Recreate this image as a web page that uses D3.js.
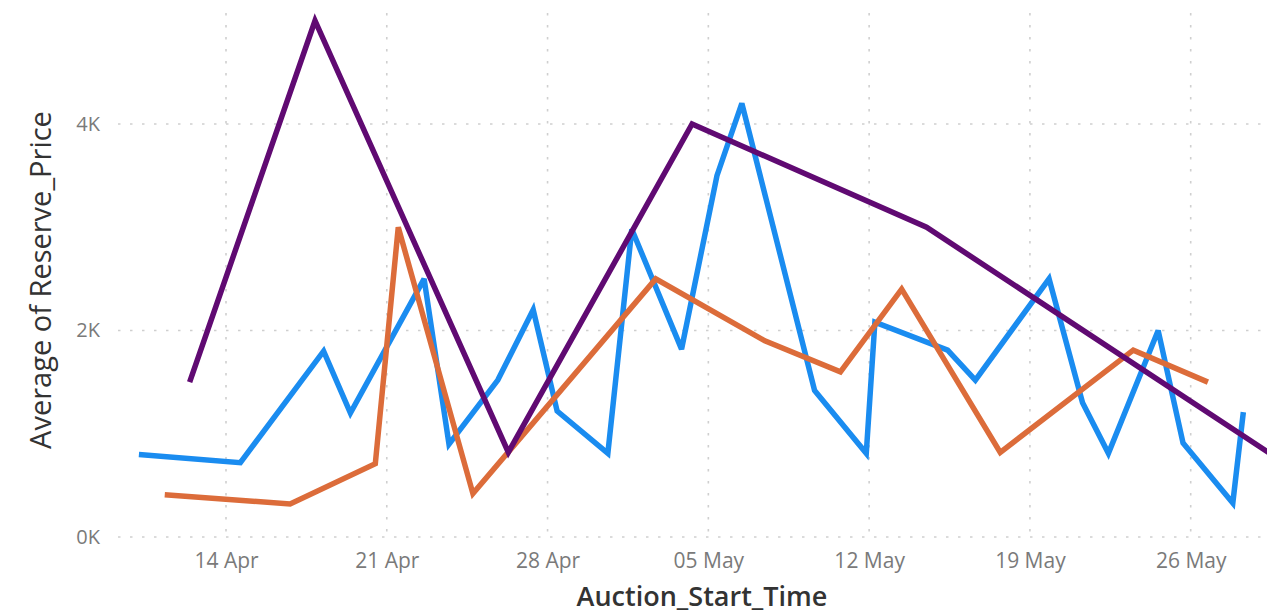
<!DOCTYPE html>
<html>
<head>
<meta charset="utf-8">
<script src="https://cdn.jsdelivr.net/npm/d3@7"></script>
<style>
  html, body { margin: 0; padding: 0; background: #ffffff; }
  svg { display: block; }
  text { font-family: "Open Sans", "Noto Sans", sans-serif; }
</style>
</head>
<body>
<svg id="chart" width="1267" height="616"></svg>
<script>
// ---- data ----
const blueDates = ["2023-04-10T05:00","2023-04-14T15:00","2023-04-18T06:00","2023-04-19T10:00","2023-04-22T15:00","2023-04-23T17:00","2023-04-25T20:00","2023-04-27T09:00","2023-04-28T10:00","2023-04-30T15:00","2023-05-01T16:00","2023-05-03T20:00","2023-05-05T09:00","2023-05-06T11:00","2023-05-09T15:00","2023-05-11T21:00","2023-05-12T06:00","2023-05-15T10:00","2023-05-16T15:00","2023-05-19T20:00","2023-05-21T07:00","2023-05-22T10:00","2023-05-24T14:00","2023-05-25T16:00","2023-05-27T20:00","2023-05-28T07:00"];
const blueValues = [800,720,1800,1200,2500,900,1520,2200,1220,810,2980,1820,3500,4200,1420,810,2080,1810,1520,2500,1300,810,2000,910,330,1210];

const orangeDates = ["2023-04-11T08:00","2023-04-16T19:00","2023-04-20T12:00","2023-04-21T12:00","2023-04-24T18:00","2023-05-02T17:00","2023-05-07T11:00","2023-05-10T18:00","2023-05-13T10:00","2023-05-17T17:00","2023-05-23T12:00","2023-05-26T18:00"];
const orangeValues = [410,320,710,3000,420,2500,1900,1600,2400,820,1810,1500];

const purpleDates = ["2023-04-12T10:00","2023-04-17T21:00","2023-04-26T07:00","2023-05-04T07:00","2023-05-14T12:00","2023-05-30T08:00"];
const purpleValues = [1500,5000,820,4000,3000,680];

const xTickDates = ["2023-04-14","2023-04-21","2023-04-28","2023-05-05","2023-05-12","2023-05-19","2023-05-26"];
const yTickValues = [0,2000,4000];

const seriesColors = ["#1A8CF0","#DC6C3A","#600A72"];
const xTitle = "Auction_Start_Time";
const yTitle = "Average of Reserve_Price";

// ---- layout ----
const W = 1267, H = 616;
const plotLeft = 118, plotRight = 1267, plotTop = 13, plotBottom = 537;
const parse = d3.isoParse;

const x = d3.scaleTime()
  .domain([parse("2023-04-14T00:00"), parse("2023-05-26T00:00")])
  .range([226, 1190.7]);
const y = d3.scaleLinear()
  .domain([0, 5075])
  .range([plotBottom, plotTop]);

const svg = d3.select("#chart");

svg.append("defs").append("clipPath").attr("id","clip")
  .append("rect").attr("x", plotLeft).attr("y", 0).attr("width", plotRight - plotLeft).attr("height", plotBottom + 10);

// gridlines
const grid = svg.append("g");
grid.selectAll("line.h").data(yTickValues).join("line")
  .attr("x1", plotLeft).attr("x2", plotRight)
  .attr("y1", d => y(d)).attr("y2", d => y(d))
  .attr("stroke", "#cfcfcf").attr("stroke-width", 1.6)
  .attr("stroke-dasharray", "2.5,9.5");
grid.selectAll("line.v").data(xTickDates).join("line")
  .attr("x1", d => x(parse(d))).attr("x2", d => x(parse(d)))
  .attr("y1", plotTop).attr("y2", plotBottom)
  .attr("stroke", "#cfcfcf").attr("stroke-width", 1.6)
  .attr("stroke-dasharray", "2.5,9.5");

// axes (labels only, no domain / tick lines)
const fmtY = d => d3.format("d")(d / 1000) + "K";
const yAxis = d3.axisLeft(y).tickValues(yTickValues).tickFormat(fmtY).tickSize(0).tickPadding(0);
const gy = svg.append("g").attr("transform", `translate(100,0)`).call(yAxis);
gy.select(".domain").remove();
gy.selectAll("text").attr("font-size", 20).attr("fill", "#7a7a7a")
  .attr("font-family", "'Open Sans', sans-serif");

const xAxis = d3.axisBottom(x).tickValues(xTickDates.map(parse)).tickFormat(d3.timeFormat("%d %b")).tickSize(0).tickPadding(0);
const gx = svg.append("g").attr("transform", `translate(0,${plotBottom + 16})`).call(xAxis);
gx.select(".domain").remove();
gx.selectAll("text").attr("font-size", 21).attr("fill", "#7a7a7a")
  .attr("font-family", "'Open Sans', sans-serif");

// lines
const series = [
  {dates: blueDates, values: blueValues},
  {dates: orangeDates, values: orangeValues},
  {dates: purpleDates, values: purpleValues}
];
const line = d3.line().x(d => x(d[0])).y(d => y(d[1]));
const lines = svg.append("g").attr("clip-path", "url(#clip)");
series.forEach((s, i) => {
  const pts = s.dates.map((d, j) => [parse(d), s.values[j]]);
  lines.append("path").datum(pts)
    .attr("d", line)
    .attr("fill", "none")
    .attr("stroke", seriesColors[i])
    .attr("stroke-width", 5.5)
    .attr("stroke-linejoin", "miter")
    .attr("stroke-miterlimit", 3);
});

// axis titles
svg.append("text")
  .attr("x", 702).attr("y", 606)
  .attr("text-anchor", "middle")
  .attr("font-size", 27).attr("font-weight", 600).attr("fill", "#333333")
  .text(xTitle);
svg.append("text")
  .attr("transform", "translate(51,280) rotate(-90)")
  .attr("text-anchor", "middle")
  .attr("font-size", 29).attr("font-weight", 500).attr("fill", "#333333")
  .text(yTitle);
</script>
</body>
</html>
